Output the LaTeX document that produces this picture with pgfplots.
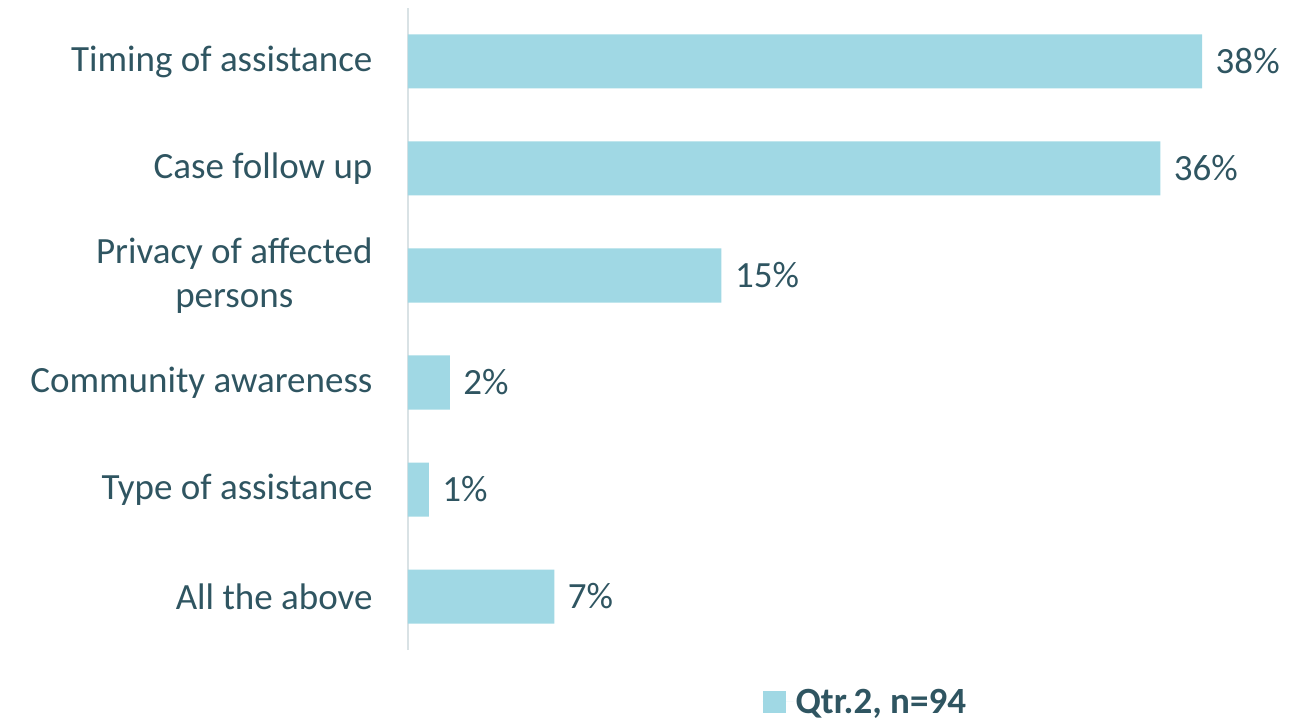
\documentclass[border=0pt]{standalone}
\usepackage{fontspec}
\setmainfont{Carlito}
\usepackage{pgfplots}
\pgfplotsset{compat=1.18}
\definecolor{barcol}{HTML}{A0D8E4}
\definecolor{txt}{HTML}{2F5561}
\definecolor{axcol}{HTML}{D9E2E5}
\begin{document}
\begin{tikzpicture}
\path[use as bounding box] (-408pt,-73pt) rectangle (899pt,650pt);
\begin{axis}[
  scale only axis,
  width=836pt, height=642pt,
  at={(0pt,0pt)}, anchor=south west,
  xbar, bar width=54pt,
  xmin=0, xmax=40,
  ymin=-0.5, ymax=5.5,
  axis x line=none,
  axis y line*=left,
  y axis line style={draw=axcol, line width=1.5pt, -},
  ytick={0,1,2,3,4,5},
  yticklabels={All the above,Type of assistance,Community awareness,{Privacy of affected\\persons},Case follow up,Timing of assistance},
  major tick length=0pt,
  yticklabel style={font=\fontsize{37}{44}\selectfont, text=txt, align=center, xshift=-32pt},
  nodes near coords={\pgfplotspointmeta\%},
  nodes near coords style={font=\fontsize{37}{44}\selectfont, text=txt, anchor=west, xshift=10pt},
  point meta=explicit symbolic,
  legend style={at={(0.547,-0.081)}, anchor=center, draw=none, fill=none, font=\fontsize{37}{44}\selectfont\bfseries, text=txt, legend cell align=left},
  legend image code/.code={\fill[barcol] (0pt,-11pt) rectangle (23pt,11pt);\path (0pt,0pt) -- (31pt,0pt);},
]
\addplot[fill=barcol, draw=none] coordinates {
  (7,0) [7]
  (1,1) [1]
  (2,2) [2]
  (15,3) [15]
  (36,4) [36]
  (38,5) [38]
};
\addlegendentry{Qtr.2, n=94}
\end{axis}
\end{tikzpicture}
\end{document}
